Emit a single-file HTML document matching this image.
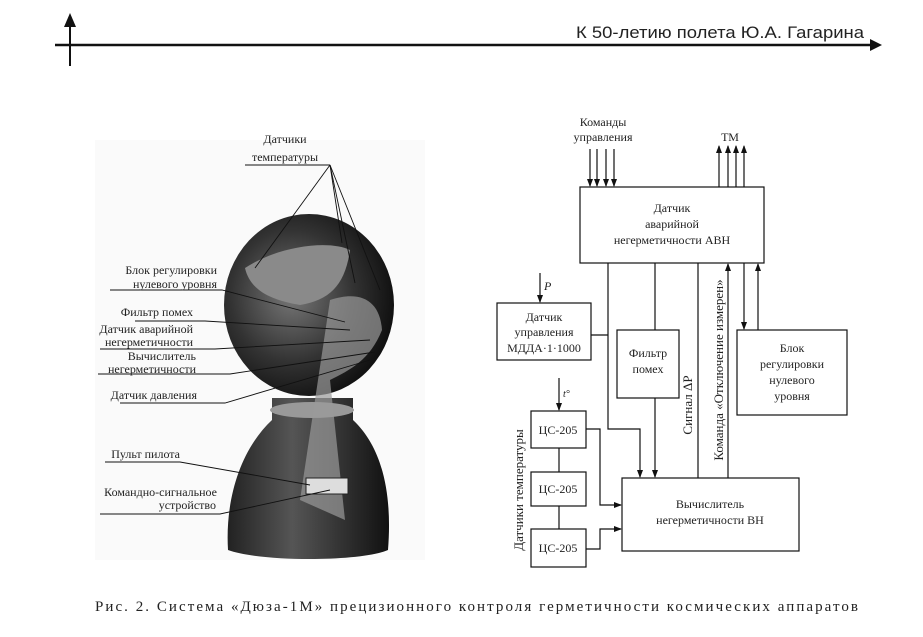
<!DOCTYPE html>
<html><head><meta charset="utf-8"><style>
html,body{margin:0;padding:0;background:#fff;}
svg{display:block}
text{font-family:"Liberation Serif","Noto Serif CJK SC",serif;font-size:12px;fill:#222}
.s{font-family:"Liberation Sans","Noto Sans CJK SC",sans-serif}
</style></head><body>
<svg width="923" height="637" viewBox="0 0 923 637" xmlns="http://www.w3.org/2000/svg">
<defs>
<marker id="a" markerWidth="8" markerHeight="8" refX="7" refY="4" orient="auto" markerUnits="userSpaceOnUse"><path d="M0,1 L8,4 L0,7 Z" fill="#111"/></marker>
<radialGradient id="sp" cx="0.4" cy="0.45" r="0.6"><stop offset="0" stop-color="#777"/><stop offset="0.6" stop-color="#333"/><stop offset="1" stop-color="#111"/></radialGradient>
<linearGradient id="nz" x1="0" x2="1"><stop offset="0" stop-color="#222"/><stop offset="0.4" stop-color="#555"/><stop offset="0.7" stop-color="#333"/><stop offset="1" stop-color="#111"/></linearGradient>
</defs>
<line x1="55" y1="45" x2="872" y2="45" stroke="#111" stroke-width="2.5"/>
<path d="M870,39 L882,45 L870,51 Z" fill="#111"/>
<line x1="70" y1="66" x2="70" y2="24" stroke="#111" stroke-width="2"/>
<path d="M64,27 L70,13 L76,27 Z" fill="#111"/>
<text class="s" x="864" y="38" text-anchor="end" style="font-size:17px" textLength="288" lengthAdjust="spacingAndGlyphs">К 50-летию полета Ю.А. Гагарина</text>

<rect x="95" y="140" width="330" height="420" fill="#fafafa"/>
<path d="M228,550 C225,500 240,450 272,420 L272,398 L353,398 L353,420 C385,450 392,500 388,550 C360,562 260,562 228,550 Z" fill="url(#nz)"/>
<ellipse cx="312" cy="410" rx="42" ry="8" fill="#999"/>
<ellipse cx="309" cy="305" rx="85" ry="91" fill="url(#sp)"/>
<path d="M245,268 C280,245 330,240 350,250 C345,285 330,300 300,305 C270,300 250,290 245,268 Z" fill="#8a8a8a"/>
<path d="M330,300 C360,290 380,300 382,330 C370,360 350,370 330,380 L345,520 L300,500 Z" fill="#9a9a9a" opacity="0.7"/>
<rect x="306" y="478" width="42" height="16" fill="#ddd" stroke="#222"/>
<g stroke="#111" stroke-width="0.9" fill="none">
<line x1="245" y1="165" x2="330" y2="165"/>
<line x1="330" y1="165" x2="255" y2="268"/><line x1="330" y1="165" x2="342" y2="243"/><line x1="330" y1="165" x2="355" y2="283"/><line x1="330" y1="165" x2="380" y2="290"/>
<polyline points="110,290 222,290 345,322"/>
<polyline points="135,321 205,321 350,330"/>
<polyline points="100,349 215,349 370,340"/>
<polyline points="98,374 230,374 375,352"/>
<polyline points="120,403 225,403 370,360"/>
<polyline points="105,462 180,462 310,485"/>
<polyline points="100,514 220,514 330,490"/>
</g>
<text x="285" y="143" text-anchor="middle">Датчики</text>
<text x="285" y="161" text-anchor="middle">температуры</text>
<text x="217" y="274" text-anchor="end">Блок регулировки</text>
<text x="217" y="288" text-anchor="end">нулевого уровня</text>
<text x="193" y="316" text-anchor="end">Фильтр помех</text>
<text x="193" y="333" text-anchor="end">Датчик аварийной</text>
<text x="193" y="346" text-anchor="end">негерметичности</text>
<text x="196" y="360" text-anchor="end">Вычислитель</text>
<text x="196" y="373" text-anchor="end">негерметичности</text>
<text x="197" y="399" text-anchor="end">Датчик давления</text>
<text x="180" y="458" text-anchor="end">Пульт пилота</text>
<text x="217" y="496" text-anchor="end">Командно-сигнальное</text>
<text x="216" y="509" text-anchor="end">устройство</text>

<g stroke="#111" stroke-width="1.2" fill="#fff">
<rect x="580" y="187" width="184" height="76"/>
<rect x="497" y="303" width="94" height="57"/>
<rect x="617" y="330" width="62" height="68"/>
<rect x="737" y="330" width="110" height="85"/>
<rect x="531" y="411" width="55" height="37"/>
<rect x="531" y="472" width="55" height="34"/>
<rect x="531" y="529" width="55" height="38"/>
<rect x="622" y="478" width="177" height="73"/>
</g>
<g stroke="#111" stroke-width="1.2" fill="none">
<line x1="590" y1="149" x2="590" y2="186" marker-end="url(#a)"/>
<line x1="597" y1="149" x2="597" y2="186" marker-end="url(#a)"/>
<line x1="606" y1="149" x2="606" y2="186" marker-end="url(#a)"/>
<line x1="614" y1="149" x2="614" y2="186" marker-end="url(#a)"/>
<line x1="719" y1="187" x2="719" y2="146" marker-end="url(#a)"/>
<line x1="728" y1="187" x2="728" y2="146" marker-end="url(#a)"/>
<line x1="736" y1="187" x2="736" y2="146" marker-end="url(#a)"/>
<line x1="744" y1="187" x2="744" y2="146" marker-end="url(#a)"/>
<line x1="540" y1="273" x2="540" y2="302" marker-end="url(#a)"/>
<line x1="559" y1="378" x2="559" y2="410" marker-end="url(#a)"/>
<line x1="591" y1="335" x2="608" y2="335"/>
<polyline points="608,263 608,429 640,429 640,477" marker-end="url(#a)"/>
<line x1="655" y1="263" x2="655" y2="330"/>
<line x1="655" y1="398" x2="655" y2="477" marker-end="url(#a)"/>
<line x1="698" y1="263" x2="698" y2="478"/>
<line x1="728" y1="478" x2="728" y2="264" marker-end="url(#a)"/>
<line x1="744" y1="263" x2="744" y2="329" marker-end="url(#a)"/>
<line x1="758" y1="330" x2="758" y2="264" marker-end="url(#a)"/>
<line x1="559" y1="448" x2="559" y2="472"/>
<line x1="559" y1="506" x2="559" y2="529"/>
<polyline points="586,429 600,429 600,505 621,505" marker-end="url(#a)"/>
<polyline points="586,549 600,549 600,529 621,529" marker-end="url(#a)"/>
</g>
<text x="603" y="126" text-anchor="middle">Команды</text>
<text x="603" y="141" text-anchor="middle">управления</text>
<text x="730" y="141" text-anchor="middle">ТМ</text>
<text x="672" y="212" text-anchor="middle">Датчик</text>
<text x="672" y="228" text-anchor="middle">аварийной</text>
<text x="672" y="244" text-anchor="middle">негерметичности АВН</text>
<text x="544" y="290" style="font-style:italic">P</text>
<text x="563" y="397" style="font-style:italic;font-size:10px">t°</text>
<text x="544" y="321" text-anchor="middle">Датчик</text>
<text x="544" y="336" text-anchor="middle">управления</text>
<text x="544" y="352" text-anchor="middle">МДДА·1·1000</text>
<text x="648" y="357" text-anchor="middle">Фильтр</text>
<text x="648" y="373" text-anchor="middle">помех</text>
<text x="792" y="352" text-anchor="middle">Блок</text>
<text x="792" y="368" text-anchor="middle">регулировки</text>
<text x="792" y="384" text-anchor="middle">нулевого</text>
<text x="792" y="400" text-anchor="middle">уровня</text>
<text x="558" y="434" text-anchor="middle">ЦС-205</text>
<text x="558" y="493" text-anchor="middle">ЦС-205</text>
<text x="558" y="552" text-anchor="middle">ЦС-205</text>
<text x="710" y="508" text-anchor="middle">Вычислитель</text>
<text x="710" y="524" text-anchor="middle">негерметичности ВН</text>
<text transform="translate(692,405) rotate(-90)" text-anchor="middle" style="font-size:13px">Сигнал ΔP</text>
<text transform="translate(723,370) rotate(-90)" text-anchor="middle" style="font-size:13px">Команда «Отключение измерен»</text>
<text transform="translate(523,490) rotate(-90)" text-anchor="middle" style="font-size:13px">Датчики температуры</text>

<text x="95" y="611" style="font-size:15px" textLength="763" lengthAdjust="spacing">Рис. 2. Система «Дюза-1М» прецизионного контроля герметичности космических аппаратов</text>
</svg>
</body></html>
